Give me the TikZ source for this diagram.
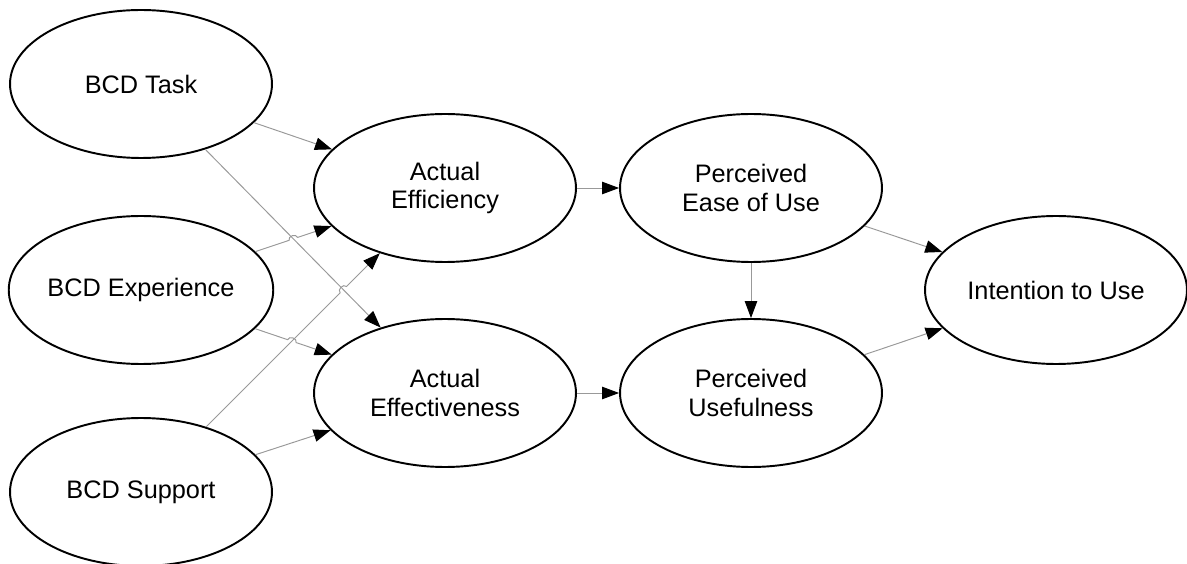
\documentclass[tikz,border=0pt]{standalone}
\usepackage{fontspec}
\setmainfont{Liberation Sans}
\usepackage{tikz}
\usetikzlibrary{shapes.geometric,arrows.meta,calc,intersections}

\tikzset{
    construct/.style={ellipse, draw=black, line width=1.1pt, fill=white,
        minimum width=5.24cm, minimum height=2.96cm, inner sep=0pt,
        align=center, font=\fontsize{14.4}{16}\selectfont},
    link/.style={draw=gray!80, line width=0.55pt,
        -{Triangle[length=0.34cm, width=0.25cm, color=black]}}
}

% line that jumps over another one at the crossing #2
\newcommand{\hoplink}[3]{%
    \coordinate (ha) at ($(#2)!0.09cm!(#1)$);
    \coordinate (hb) at ($(#2)!0.09cm!(#3)$);
    \draw[link] (#1) -- (ha) .. controls ($(ha)!0.5!90:(hb)$) and ($(hb)!0.5!-90:(ha)$) .. (hb) -- (#3);
}

\begin{document}
\begin{tikzpicture}[x=0.02cm, y=-0.02cm]
    \useasboundingbox (0,0) rectangle (1187,564);

    % Antecedents
    \node[construct] (task)  at (141,84)  {BCD Task};
    \node[construct] (exper) at (141,290) {BCD Experience};
    \node[construct] (supp)  at (141,492) {BCD Support};
    % Actual performance
    \node[construct] (effi) at (445,188) {Actual\\Efficiency};
    \node[construct] (effc) at (445,393) {Actual\\Effectiveness};
    % Perceptions
    \node[construct] (ease) at (751,188) {Perceived\\Ease of Use};
    \node[construct] (usef) at (751,393) {Perceived\\Usefulness};
    \node[construct] (intent) at (1056,290) {Intention to Use};

    % Crossing points
    \path[name path=taskeffc] (task) -- (effc);
    \path[name path=expereffi] (exper) -- (effi);
    \path[name path=suppeffi] (supp) -- (effi);
    \path[name path=expereffc] (exper) -- (effc);
    \path[name intersections={of=taskeffc and expereffi, by=x1}];
    \path[name intersections={of=taskeffc and suppeffi, by=x2}];
    \path[name intersections={of=suppeffi and expereffc, by=x3}];

    % Paths
    \draw[link] (task) -- (effi);
    \draw[link] (task) -- (effc);
    \hoplink{exper}{x1}{effi}
    \hoplink{exper}{x3}{effc}
    \hoplink{supp}{x2}{effi}
    \draw[link] (supp) -- (effc);
    \draw[link] (effi) -- (ease);
    \draw[link] (effc) -- (usef);
    \draw[link] (ease) -- (usef);
    \draw[link] (ease) -- (intent);
    \draw[link] (usef) -- (intent);
\end{tikzpicture}
\end{document}
